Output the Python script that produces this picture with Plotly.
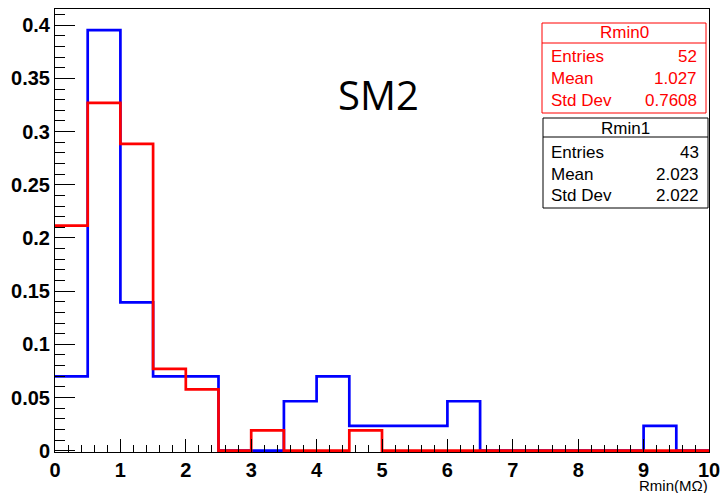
import plotly.graph_objects as go

# ---- data ----
bin_edges = [0.0, 0.5, 1.0, 1.5, 2.0, 2.5, 3.0, 3.5, 4.0, 4.5, 5.0,
             5.5, 6.0, 6.5, 7.0, 7.5, 8.0, 8.5, 9.0, 9.5, 10.0]
rmin1_values = [0.0698, 0.3953, 0.1395, 0.0698, 0.0698, 0.0, 0.0, 0.0465, 0.0698, 0.0233,
                0.0233, 0.0233, 0.0465, 0.0, 0.0, 0.0, 0.0, 0.0, 0.0233, 0.0]
rmin0_values = [0.2115, 0.3269, 0.2885, 0.0769, 0.0577, 0.0, 0.0192, 0.0, 0.0, 0.0192,
                0.0, 0.0, 0.0, 0.0, 0.0, 0.0, 0.0, 0.0, 0.0, 0.0]
stats_rmin0 = {"name": "Rmin0", "Entries": "52", "Mean": "1.027", "Std Dev": "0.7608"}
stats_rmin1 = {"name": "Rmin1", "Entries": "43", "Mean": "2.023", "Std Dev": "2.022"}
x_title = "Rmin(MΩ)"
label_text = "SM2"

W, H = 722, 493
L, R, T, B = 55, 13, 9, 41
PW, PH = W - L - R, H - T - B

def px(x):
    return (x - L) / PW

def py(y):
    return 1 - (y - T) / PH

fig = go.Figure()

def step_trace(vals, color):
    return go.Scatter(x=bin_edges, y=vals + [vals[-1]], mode="lines",
                      line=dict(color=color, width=2.7, shape="hv"),
                      showlegend=False, hoverinfo="skip")

fig.add_trace(step_trace(rmin1_values, "#0000ff"))
fig.add_trace(step_trace(rmin0_values, "#ff0000"))

tickfont = dict(family="Liberation Sans", size=20, color="black", weight="bold")

fig.update_xaxes(range=[0, 10], showgrid=False, zeroline=False,
                 showline=True, linecolor="black", linewidth=1, mirror=True,
                 ticks="inside", ticklen=13, tickwidth=1, tickcolor="black",
                 dtick=1, tick0=0, tickfont=tickfont,
                 minor=dict(ticks="inside", ticklen=7, dtick=0.2, tick0=0,
                            tickcolor="black", showgrid=False))
fig.update_yaxes(range=[-0.0012, 0.4152], showgrid=False, zeroline=False,
                 showline=True, linecolor="black", linewidth=1, mirror=True,
                 ticks="inside", ticklen=20, tickwidth=1, tickcolor="black",
                 dtick=0.05, tick0=0, tickfont=tickfont,
                 minor=dict(ticks="inside", ticklen=10, dtick=0.01, tick0=0,
                            tickcolor="black", showgrid=False))

shapes = []
annotations = []

def stats_box(st, color, x0, x1, y0, y1, ysep, rows_y, title_y, lx, rx):
    shapes.append(dict(type="rect", xref="paper", yref="paper",
                       x0=px(x0), x1=px(x1), y0=py(y1), y1=py(y0),
                       line=dict(color=color, width=1), fillcolor="white", layer="above"))
    shapes.append(dict(type="line", xref="paper", yref="paper",
                       x0=px(x0), x1=px(x1), y0=py(ysep), y1=py(ysep),
                       line=dict(color=color, width=1), layer="above"))
    f = dict(family="Liberation Sans", size=17, color=color)
    annotations.append(dict(xref="paper", yref="paper", x=px((x0 + x1) / 2), y=py(title_y),
                            text=st["name"], showarrow=False, font=f,
                            xanchor="center", yanchor="middle"))
    for key, yy in zip(["Entries", "Mean", "Std Dev"], rows_y):
        annotations.append(dict(xref="paper", yref="paper", x=px(lx), y=py(yy), text=key,
                                showarrow=False, font=f, xanchor="left", yanchor="middle"))
        annotations.append(dict(xref="paper", yref="paper", x=px(rx), y=py(yy), text=st[key],
                                showarrow=False, font=f, xanchor="right", yanchor="middle"))

stats_box(stats_rmin0, "#ff0000", 542, 706, 23, 113, 43, [57, 79, 100], 33, 549, 699)
stats_box(stats_rmin1, "#000000", 543, 708, 118, 208, 137, [152, 174, 195], 128, 549, 701)

annotations.append(dict(xref="paper", yref="paper", x=px(378), y=py(94), text=label_text,
                        showarrow=False, font=dict(family="Open Sans", size=40, color="black"),
                        xanchor="center", yanchor="middle"))
annotations.append(dict(xref="paper", yref="paper", x=px(710), y=py(485), text=x_title,
                        showarrow=False, font=dict(family="Liberation Sans", size=15, color="black"),
                        xanchor="right", yanchor="middle"))

fig.update_layout(width=W, height=H, margin=dict(l=L, r=R, t=T, b=B, autoexpand=False),
                  paper_bgcolor="white", plot_bgcolor="white",
                  shapes=shapes, annotations=annotations)

fig.write_html("out.html", config={"displayModeBar": False},
               post_script="document.body.style.margin='0';document.body.style.padding='0';")
